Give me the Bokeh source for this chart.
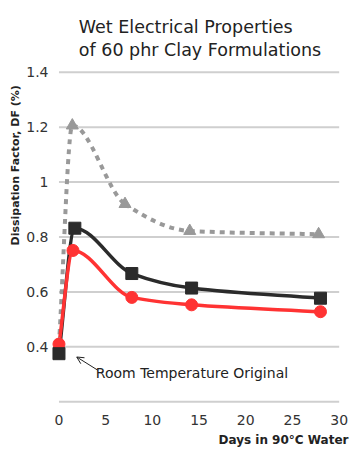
import numpy as np
from bokeh.plotting import figure
from bokeh.models import Range1d, Label, Arrow, OpenHead, FixedTicker, Title
from bokeh.embed import file_html
from bokeh.resources import INLINE

# ---- data ----
days_black = [0, 1.7, 7.8, 14.2, 28]
df_black = [0.375, 0.832, 0.667, 0.614, 0.577]
days_red = [0, 1.5, 7.8, 14.2, 28]
df_red = [0.41, 0.751, 0.58, 0.553, 0.528]
days_gray = [0, 1.43, 7.07, 14.0, 27.8]
df_gray = [0.41, 1.206, 0.92, 0.822, 0.81]

y_ticks = [0.4, 0.6, 0.8, 1.0, 1.2, 1.4]
y_tick_labels = ["0.4", "0.6", "0.8", "1", "1.2", "1.4"]
grid_levels = [0.2, 0.4, 0.6, 0.8, 1.0, 1.2, 1.4]
x_ticks = [0, 5, 10, 15, 20, 25, 30]

title_lines = ["Wet Electrical Properties", "of 60 phr Clay Formulations"]
y_label = "Dissipation Factor, DF (%)"
x_label = "Days in 90°C Water"
note = "Room Temperature Original"

FONT = "DejaVu Sans"


def monotone_bezier(xs, ys):
    """Monotone cubic (Fritsch-Carlson) smoothing expressed as Bezier segments."""
    x = np.asarray(xs, float)
    y = np.asarray(ys, float)
    h = np.diff(x)
    d = np.diff(y) / h
    m = np.zeros_like(y)
    m[0], m[-1] = d[0], d[-1]
    for i in range(1, len(y) - 1):
        if d[i - 1] * d[i] <= 0:
            m[i] = 0.0
        else:
            w1 = 2 * h[i] + h[i - 1]
            w2 = h[i] + 2 * h[i - 1]
            m[i] = (w1 + w2) / (w1 / d[i - 1] + w2 / d[i])
    return dict(
        x0=x[:-1], y0=y[:-1], x1=x[1:], y1=y[1:],
        cx0=x[:-1] + h / 3, cy0=y[:-1] + m[:-1] * h / 3,
        cx1=x[1:] - h / 3, cy1=y[1:] - m[1:] * h / 3,
    )


p = figure(width=355, height=452, output_backend="svg", toolbar_location=None,
           x_range=Range1d(-0.8, 31), y_range=Range1d(0.19, 1.41),
           min_border_left=51, min_border_right=7, min_border_top=69,
           min_border_bottom=48)
p.outline_line_color = None
p.grid.visible = False
p.background_fill_color = "white"

# two-line title
p.title.text = "\n".join(title_lines)
p.title.align = "center"
p.title.standoff = 20
p.title.text_font = FONT
p.title.text_font_size = "17.5px"
p.title.text_font_style = "normal"
p.title.text_color = "#222222"
p.title.text_line_height = 1.15

# axis labels
p.add_layout(Title(text=y_label, align="left", offset=159, standoff=4,
                   text_font=FONT, text_font_size="11px",
                   text_font_style="bold", text_color="#222222"), "left")
p.add_layout(Title(text=x_label, align="right", offset=0, standoff=6,
                   text_font=FONT, text_font_size="12px",
                   text_font_style="bold", text_color="#222222"), "below")

# grid lines spanning 0..30 days
p.segment(x0=[x_ticks[0]] * len(grid_levels), x1=[x_ticks[-1]] * len(grid_levels),
          y0=grid_levels, y1=grid_levels, line_color="#cfcfcf", line_width=2)

# axes
for ax in (p.xaxis[0], p.yaxis[0]):
    ax.axis_line_color = None
    ax.major_tick_line_color = None
    ax.minor_tick_line_color = None
    ax.major_tick_out = 0
    ax.major_tick_in = 0
    ax.minor_tick_out = 0
    ax.minor_tick_in = 0
    ax.major_label_text_font = FONT
    ax.major_label_text_font_size = "14px"
    ax.major_label_text_color = "#333333"
p.yaxis.ticker = FixedTicker(ticks=y_ticks)
p.yaxis.major_label_overrides = {t: l for t, l in zip(y_ticks, y_tick_labels)}
p.yaxis.major_label_standoff = 3
p.xaxis.ticker = FixedTicker(ticks=x_ticks)
p.xaxis.major_label_standoff = 10

# curves
bz = monotone_bezier(days_gray, df_gray)
p.bezier(**bz, line_color="#999999", line_width=4, line_dash="5 5")
bz = monotone_bezier(days_black, df_black)
p.bezier(**bz, line_color="#2b2b2b", line_width=3.5)
bz = monotone_bezier(days_red, df_red)
p.bezier(**bz, line_color="#ff3333", line_width=3.5)

# markers
p.scatter(days_gray, df_gray, marker="triangle", size=12, color="#999999")
p.scatter(days_red, df_red, marker="circle", size=12, color="#ff3333")
p.scatter(days_black, df_black, marker="square", size=12, color="#2b2b2b")

# annotation
p.add_layout(Arrow(end=OpenHead(size=7, line_width=1, line_color="#222222"),
                   x_start=4.15, y_start=0.315, x_end=days_black[0] + 1.9,
                   y_end=0.363, line_width=1, line_color="#222222"))
p.add_layout(Label(x=3.95, y=0.305, text=note, text_font=FONT,
                   text_font_size="14px", text_color="#222222",
                   text_baseline="middle", text_align="left"))

open("out.html", "w").write(file_html(p, INLINE))
